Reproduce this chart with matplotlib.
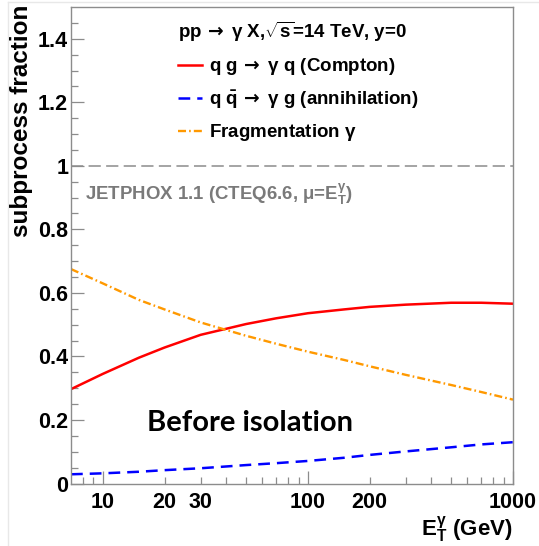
import matplotlib
matplotlib.use("Agg")
import matplotlib.pyplot as plt
from matplotlib.ticker import FixedLocator, FuncFormatter
from matplotlib.lines import Line2D

# fuentes tipo ROOT (Helvetica negrita); flechas de DejaVu, gamma fina
plt.rcParams['font.family'] = ['Liberation Sans', 'DejaVu Sans']
plt.rcParams['font.weight'] = 'bold'
plt.rcParams['mathtext.fontset'] = 'custom'
plt.rcParams['mathtext.rm'] = 'Liberation Sans:bold'
plt.rcParams['mathtext.bf'] = 'Liberation Sans:bold'
plt.rcParams['mathtext.it'] = 'Liberation Sans'
plt.rcParams['mathtext.sf'] = 'DejaVu Sans'
plt.rcParams['mathtext.default'] = 'rm'

# E_T del foton (GeV) y fraccion de cada subproceso
et = [7, 10, 15, 20, 30, 50, 70, 100, 150, 200, 300, 500, 700, 1000]
compton = [0.297, 0.345, 0.396, 0.428, 0.468, 0.502, 0.520, 0.536, 0.548, 0.556, 0.563, 0.569, 0.569, 0.566]
aniquilacion = [0.029, 0.032, 0.037, 0.042, 0.048, 0.058, 0.064, 0.071, 0.081, 0.090, 0.101, 0.114, 0.123, 0.130]
fragmentacion = [0.675, 0.630, 0.578, 0.548, 0.507, 0.465, 0.440, 0.415, 0.389, 0.369, 0.342, 0.310, 0.288, 0.264]

etiquetas_x = {10: '10', 20: '20', 30: '30', 100: '100', 200: '200', 1000: '1000'}

gris = '#8c8c8c'
flecha = r'$\,\mathsf{\rightarrow}$ '
gamma = r'$\mathit{\gamma}$'

fig = plt.figure(figsize=(5.39, 5.46), dpi=100)
ax = fig.add_axes([71/539, 62.5/546, 442/539, 476.5/546])

ax.plot(et, compton, color='#ff0000', lw=1.8, label='q g' + flecha + gamma + ' q (Compton)')
ax.plot(et, aniquilacion, color='#0000ff', lw=1.8, dashes=(4.7, 2.8),
        label=r'q $\bar{\mathrm{q}}$' + flecha + gamma + ' g (annihilation)')
ax.plot(et, fragmentacion, color='#ff9900', lw=1.7, dashes=(3.4, 1.3, 0.7, 1.3),
        label='Fragmentation ' + gamma)
ax.axhline(1.0, color=gris, lw=1.1, dashes=(8, 3.5))

ax.set_xscale('log')
ax.set_xlim(7, 1000)
ax.set_ylim(0, 1.5)

# ejes: marcas hacia dentro, color gris
for s in ax.spines.values():
    s.set_color(gris)
    s.set_linewidth(1.0)

ax.xaxis.set_major_locator(FixedLocator([10, 100, 1000]))
ax.xaxis.set_minor_locator(FixedLocator([8, 9, 20, 30, 40, 50, 60, 70, 80, 90,
                                         200, 300, 400, 500, 600, 700, 800, 900]))
fmt = FuncFormatter(lambda v, p: etiquetas_x.get(int(round(v)), ''))
ax.xaxis.set_major_formatter(fmt)
ax.xaxis.set_minor_formatter(fmt)
ax.set_yticks([0, 0.2, 0.4, 0.6, 0.8, 1.0, 1.2, 1.4])
ax.set_yticklabels(['0', '0.2', '0.4', '0.6', '0.8', '1', '1.2', '1.4'])
ax.set_yticks([i * 0.05 for i in range(30)], minor=True)

ax.tick_params(which='both', direction='in', color=gris, labelsize=15.5, top=False, right=False)
ax.tick_params(which='major', length=9.5, width=0.9)
ax.tick_params(which='minor', length=5, width=0.9)
ax.tick_params(axis='x', which='both', pad=6)
ax.tick_params(axis='y', which='both', pad=2)

fig.text(22/539, 1 - 5/546, 'subprocess fraction', rotation=90, fontsize=17.5,
         fontweight='bold', ha='center', va='top')
ax.set_xlabel(r'$\mathrm{E}_{\mathrm{T}}^{\mathit{\gamma}}$ (GeV)', fontsize=16, fontweight='bold', loc='right')
ax.xaxis.set_label_coords(1.0, -0.066)

# leyenda con el proceso como titulo
leg = ax.legend(title='pp' + flecha + gamma + r' X,$\sqrt{\mathrm{s}}$=14 TeV, y=0',
                loc='upper left', bbox_to_anchor=(0.243, 0.972), frameon=False,
                fontsize=13.5, title_fontsize=13.5, handlelength=1.25, handletextpad=0.4,
                labelspacing=0.62, borderpad=0, borderaxespad=0, alignment='left')
leg.get_title().set_fontweight('bold')

ax.text(0.032, 0.595, r'JETPHOX 1.1 (CTEQ6.6, $\mathit{\mu}$=$\mathrm{E}_{\mathrm{T}}^{\mathit{\gamma}}$)',
        transform=ax.transAxes, fontsize=13.4, color='#7a7a7a', fontweight='bold', va='baseline')
ax.text(0.172, 0.110, 'Before isolation', transform=ax.transAxes, fontsize=21,
        family=['Lato', 'DejaVu Sans'], fontweight='bold', va='baseline')

# borde claro del lienzo
fig.add_artist(Line2D([8/539, 8/539], [0, 1 - 2/546], color='#e8e8e8', lw=1))
fig.add_artist(Line2D([8/539, 1], [1 - 2/546, 1 - 2/546], color='#e8e8e8', lw=1))

fig.savefig('out.png', dpi=100)
